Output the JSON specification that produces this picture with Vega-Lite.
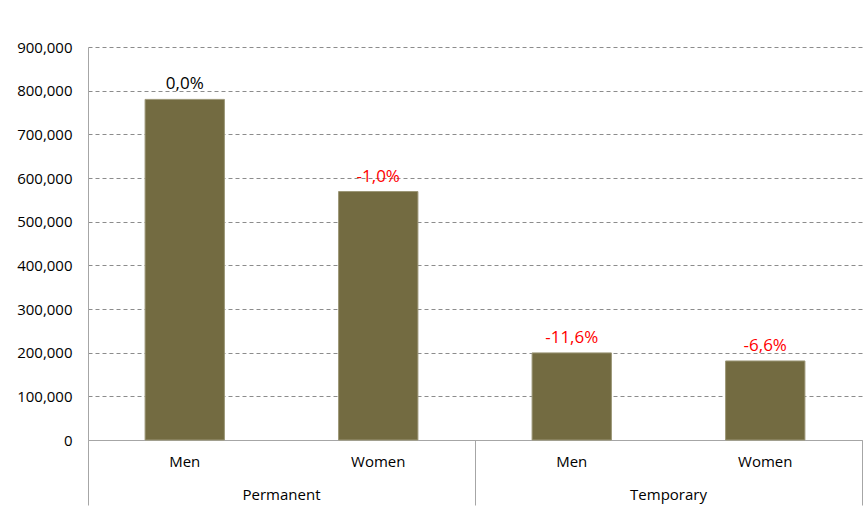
{
  "$schema": "https://vega.github.io/schema/vega-lite/v6.json",
  "autosize": "none",
  "width": 774,
  "height": 393,
  "padding": {"left": 88, "top": 47, "right": 3, "bottom": 76},
  "background": "white",
  "config": {"view": {"stroke": null}, "font": "Open Sans"},
  "datasets": {
    "jobs": [
      {"contract": "Permanent", "sex": "Men", "key": "Permanent Men", "employees": 780000, "change": "0,0%"},
      {"contract": "Permanent", "sex": "Women", "key": "Permanent Women", "employees": 569000, "change": "-1,0%"},
      {"contract": "Temporary", "sex": "Men", "key": "Temporary Men", "employees": 199500, "change": "-11,6%"},
      {"contract": "Temporary", "sex": "Women", "key": "Temporary Women", "employees": 181000, "change": "-6,6%"}
    ],
    "groups": [{"contract": "Permanent"}, {"contract": "Temporary"}]
  },
  "layer": [
    {
      "data": {"name": "jobs"},
      "encoding": {
        "x": {
          "field": "key", "type": "nominal", "sort": null,
          "scale": {"paddingInner": 0, "paddingOuter": 0},
          "axis": {"orient": "bottom", "title": null, "labelExpr": "split(datum.label, ' ')[1]", "labelAngle": 0, "ticks": false, "domainColor": "#a6a6a6", "labelPadding": 14, "labelFontSize": 15, "labelColor": "#000000"}
        },
        "y": {
          "field": "employees", "type": "quantitative",
          "scale": {"domain": [0, 900000], "nice": false},
          "axis": {"title": null, "values": [0, 100000, 200000, 300000, 400000, 500000, 600000, 700000, 800000, 900000], "format": ",d", "grid": true, "gridDash": [4, 3], "gridColor": "#8c8c8c", "ticks": false, "labelPadding": 16, "domainColor": "#a6a6a6", "labelFontSize": 15, "labelColor": "#000000"}
        }
      },
      "layer": [
        {"mark": {"type": "bar", "width": {"band": 0.41}, "color": "#736B41", "stroke": "#9c9777", "strokeWidth": 1}},
        {
          "mark": {"type": "text", "baseline": "bottom", "dy": -6, "fontSize": 17},
          "encoding": {
            "text": {"field": "change"},
            "color": {"condition": {"test": "indexof(datum.change, '-') === 0", "value": "#FF0000"}, "value": "#000000"}
          }
        }
      ]
    },
    {
      "data": {"name": "groups"},
      "mark": {"type": "text", "fontSize": 15, "baseline": "middle", "color": "#000000"},
      "encoding": {
        "x": {
          "field": "contract", "type": "nominal",
          "scale": {"paddingInner": 0, "paddingOuter": 0},
          "axis": {"orient": "bottom", "title": null, "labels": false, "domain": false, "grid": false, "ticks": true, "tickBand": "extent", "tickSize": 65, "tickColor": "#a6a6a6"}
        },
        "y": {"datum": -125000},
        "text": {"field": "contract"}
      }
    }
  ],
  "resolve": {"scale": {"x": "independent"}}
}
